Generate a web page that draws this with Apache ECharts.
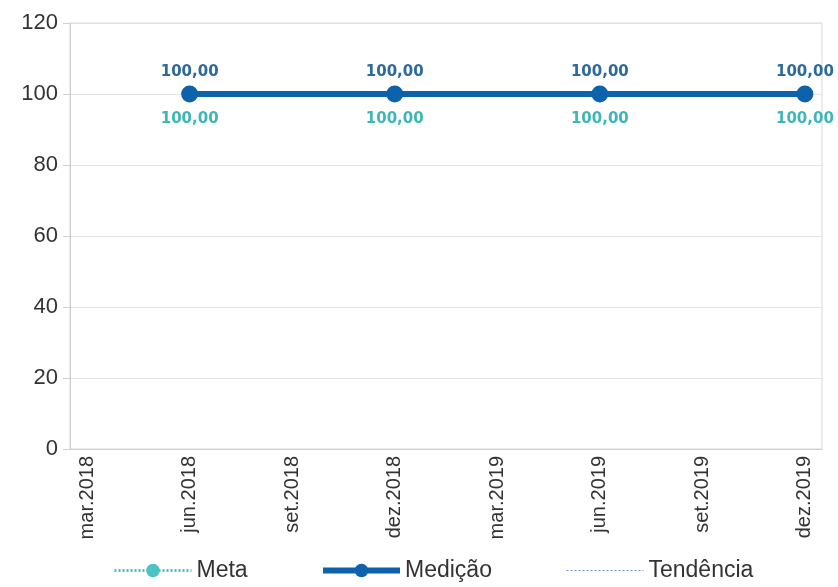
<!DOCTYPE html>
<html>
<head>
<meta charset="utf-8">
<script src="https://cdn.jsdelivr.net/npm/echarts@6/dist/echarts.min.js"></script>
<style>
  html, body { margin: 0; padding: 0; background: #fff; }
  #chart { width: 838px; height: 587px; }
</style>
</head>
<body>
<div id="chart"></div>
<script>
// meses do eixo x (um por categoria, rótulo a cada 3)
const months = [
  'mar.2018', 'abr.2018', 'mai.2018', 'jun.2018', 'jul.2018', 'ago.2018',
  'set.2018', 'out.2018', 'nov.2018', 'dez.2018', 'jan.2019', 'fev.2019',
  'mar.2019', 'abr.2019', 'mai.2019', 'jun.2019', 'jul.2019', 'ago.2019',
  'set.2019', 'out.2019', 'nov.2019', 'dez.2019'
]
const meta = [null, null, null, 100, null, null, null, null, null, 100, null, null,
  null, null, null, 100, null, null, null, null, null, 100]
const medicao = [null, null, null, 100, null, null, null, null, null, 100, null, null,
  null, null, null, 100, null, null, null, null, null, 100]
const tendencia = [null, null, null, 100, null, null, null, null, null, 100, null, null,
  null, null, null, 100, null, null, null, null, null, 100]
const yTicks = [0, 20, 40, 60, 80, 100, 120]

const fmt = p => p.value.toFixed(2).replace('.', ',')

const legendText = { fontFamily: 'Liberation Sans', fontSize: 23, color: '#333' }
const mkLegend = (item, left) => ({
  bottom: 0,
  left: left,
  itemWidth: 77,
  itemHeight: 17,
  textStyle: legendText,
  data: [item]
})

const myChart = echarts.init(document.getElementById('chart'))
myChart.setOption({
  animation: false,
  grid: {
    left: 70, right: 16, top: 23, bottom: 138,
    show: true, borderColor: '#d9d9d9', borderWidth: 1
  },
  legend: [
    mkLegend({ name: 'Meta', lineStyle: { width: 3 } }, 108),
    mkLegend({ name: 'Medição', lineStyle: { width: 6 } }, 315),
    mkLegend({ name: 'Tendência', itemStyle: { opacity: 0 }, lineStyle: { width: 1, color: '#6f8fb8' } }, 561)
  ],
  xAxis: {
    type: 'category',
    data: months,
    boundaryGap: true,
    axisLine: { lineStyle: { color: '#cfcfcf' } },
    axisTick: { show: false },
    axisLabel: {
      interval: 2,
      rotate: 90,
      margin: 7,
      fontFamily: 'Liberation Sans',
      fontSize: 20,
      color: '#333'
    }
  },
  yAxis: {
    type: 'value',
    min: yTicks[0],
    max: yTicks[yTicks.length - 1],
    interval: 20,
    axisLine: { show: true, lineStyle: { color: '#cfcfcf' } },
    axisTick: { show: true, length: 7, lineStyle: { color: '#cfcfcf' } },
    splitLine: { lineStyle: { color: '#e3e3e3' } },
    axisLabel: {
      margin: 12,
      fontFamily: 'Liberation Sans',
      fontSize: 22,
      color: '#333'
    }
  },
  series: [
    {
      name: 'Meta',
      type: 'line',
      data: meta,
      connectNulls: true,
      symbol: 'circle',
      symbolSize: 13,
      itemStyle: { color: '#4cc2c4' },
      lineStyle: { color: '#4cc2c4', width: 3, type: [2, 2] },
      label: {
        show: true,
        position: 'bottom',
        distance: 11,
        formatter: fmt,
        fontFamily: 'DejaVu Sans',
        fontWeight: 'bold',
        fontSize: 15,
        color: '#3fb6b8'
      },
      z: 2
    },
    {
      name: 'Medição',
      type: 'line',
      data: medicao,
      connectNulls: true,
      symbol: 'circle',
      symbolSize: 17,
      itemStyle: { color: '#0d62ac' },
      lineStyle: { color: '#0d62ac', width: 6 },
      label: {
        show: true,
        position: 'top',
        distance: 6,
        formatter: fmt,
        fontFamily: 'DejaVu Sans',
        fontWeight: 'bold',
        fontSize: 15,
        color: '#2d6a9b'
      },
      z: 3
    },
    {
      name: 'Tendência',
      type: 'line',
      data: tendencia,
      connectNulls: true,
      symbol: 'none',
      itemStyle: { color: '#7d9fc4' },
      lineStyle: { color: '#7d9fc4', width: 1, type: [2, 2] },
      z: 1
    }
  ]
})
</script>
</body>
</html>
